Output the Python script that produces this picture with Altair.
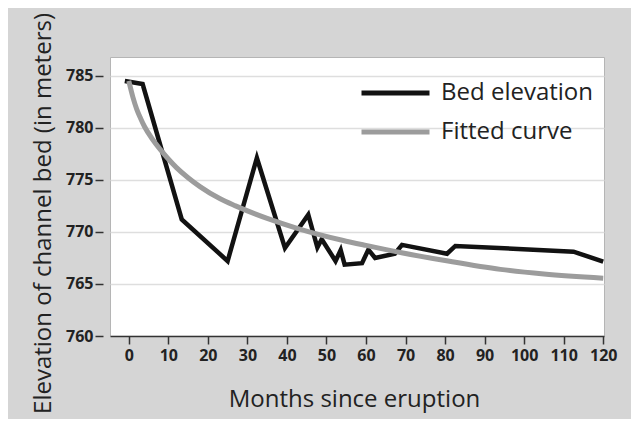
import altair as alt
import pandas as pd

# Bed elevation (black line)
bed_months = [-1, 3.5, 13.4, 25.0, 32.4, 39.5, 45.4, 47.7, 48.8, 52.3, 53.6, 54.6,
              59.0, 60.6, 62.3, 67.3, 69.1, 80.5, 82.6, 112.5, 120]
bed_elev = [784.5, 784.2, 771.2, 767.2, 777.1, 768.45, 771.65, 768.5, 769.3, 767.2,
            768.25, 766.85, 767.0, 768.3, 767.5, 767.9, 768.75, 767.9, 768.65, 768.1, 767.15]

# Fitted curve (grey line)
fit_months = [0, 1, 2, 3, 4, 6, 8, 10, 12, 15, 18, 23, 27, 35, 43, 54, 60, 69,
              80, 94, 105, 120]
fit_elev = [784.5, 783.0, 781.8, 780.9, 780.1, 778.9, 777.9, 777.0, 776.2, 775.2,
            774.35, 773.2, 772.5, 771.3, 770.3, 769.2, 768.7, 768.0, 767.25,
            766.4, 765.95, 765.55]

series_names = ["Bed elevation", "Fitted curve"]
series_colors = ["#121212", "#9c9c9c"]
x_ticks = list(range(0, 121, 10))
y_ticks = [760, 765, 770, 775, 780, 785]

bed = pd.DataFrame({"month": bed_months, "elev": bed_elev, "series": series_names[0]})
fit = pd.DataFrame({"month": fit_months, "elev": fit_elev, "series": series_names[1]})

FONT = "Open Sans"

x_enc = alt.X(
    "month:Q",
    scale=alt.Scale(domain=[-4.75, 120.2], nice=False, zero=False),
    axis=alt.Axis(
        values=x_ticks, title="Months since eruption", grid=False,
        labelOverlap=False, labelFlush=False,
        domainColor="#333333", domainWidth=1.5, tickColor="#333333", tickWidth=1.5,
        tickSize=8, labelFont=FONT, labelFontSize=16, labelFontWeight="bold",
        labelColor="#222222", labelPadding=3,
        titleFont=FONT, titleFontSize=24, titleFontWeight="normal", titleColor="#222222",
        titleBaseline="alphabetic", titleAlign="center", titleX=244, titleY=70,
    ),
)
y_enc = alt.Y(
    "elev:Q",
    scale=alt.Scale(domain=[760, 786.8], nice=False, zero=False),
    axis=alt.Axis(
        values=y_ticks, title="Elevation of channel bed (in meters)", grid=True,
        labelOverlap=False, labelFlush=False,
        gridColor="#dedede", gridWidth=1.5, domain=False, offset=7,
        tickColor="#333333", tickWidth=1.5, tickSize=8,
        labelFont=FONT, labelFontSize=16, labelFontWeight="bold", labelColor="#222222",
        labelPadding=2,
        titleFont=FONT, titleFontSize=24, titleFontWeight="normal", titleColor="#222222",
        titleAngle=-90, titleAlign="center", titleBaseline="bottom", titleX=-48, titleY=156,
    ),
)
color_enc = alt.Color(
    "series:N",
    scale=alt.Scale(domain=series_names, range=series_colors),
    legend=alt.Legend(
        title=None, orient="none", legendX=249, legendY=24, symbolType="stroke",
        symbolSize=4624, symbolStrokeWidth=5, labelFont=FONT, labelFontSize=24,
        labelColor="#222222", labelOffset=9, rowPadding=15, clipHeight=24, padding=0,
        labelLimit=400,
    ),
)

bed_line = alt.Chart(bed).mark_line(strokeWidth=4.5, strokeJoin="miter", strokeCap="butt").encode(
    x=x_enc, y=y_enc, color=color_enc
)
fit_line = alt.Chart(fit).mark_line(strokeWidth=5, interpolate="monotone").encode(
    x=x_enc, y=y_enc, color=color_enc
)

chart = alt.layer(bed_line, fit_line).properties(
    width=494, height=279,
    autosize=alt.AutoSizeParams(type="none"),
    padding={"left": 102, "top": 49, "right": 27, "bottom": 83},
    background="#d5d5d5",
).configure_view(fill="white", stroke="#b5b5b5", strokeWidth=1)

chart.save("out.html", embed_options={"renderer": "svg", "actions": False})
